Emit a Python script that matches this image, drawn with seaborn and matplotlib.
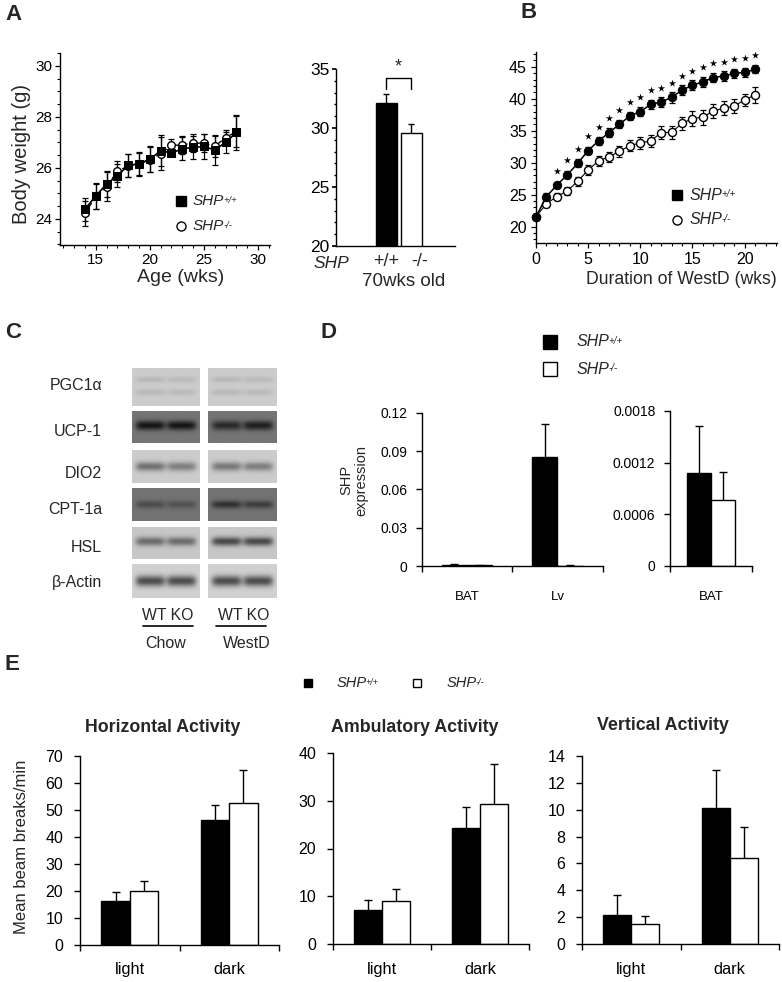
import numpy as np
import pandas as pd
import matplotlib
matplotlib.use("Agg")
import matplotlib.pyplot as plt
from matplotlib.lines import Line2D
from matplotlib.text import Annotation
from matplotlib.ticker import MultipleLocator, FixedLocator
import seaborn as sns

# ---------------- data ----------------
# Panel A (left): body weight vs age on chow
age_wks = [14, 15, 16, 17, 18, 19, 20, 21, 22, 23, 24, 25, 26, 27, 28]
bw_wt = [24.38, 24.9, 25.37, 25.69, 26.1, 26.16, 26.34, 26.67, 26.58, 26.75, 26.8, 26.84, 26.7, 27.0, 27.39]
bw_wt_err = [0.45, 0.5, 0.5, 0.45, 0.45, 0.45, 0.5, 0.6, 0.12, 0.45, 0.45, 0.5, 0.57, 0.4, 0.68]
bw_ko = [24.22, 24.88, 25.27, 25.86, 26.08, 26.15, 26.32, 26.55, 26.88, 26.9, 26.97, 26.97, 26.84, 27.19, 27.42]
bw_ko_err = [0.5, 0.5, 0.55, 0.4, 0.45, 0.45, 0.5, 0.65, 0.25, 0.35, 0.35, 0.35, 0.4, 0.3, 0.6]

# Panel A (right): 70 wks old
aged_geno = ["+/+", "-/-"]
aged_bw = [32.14, 29.6]
aged_err = [0.7, 0.73]

# Panel B: body weight on Western diet
wd_weeks = list(range(22))
wd_wt = [21.56, 24.7, 26.5, 28.1, 29.9, 31.9, 33.4, 34.7, 36.0, 37.3, 38.0, 39.1, 39.5, 40.2,
         41.35, 42.1, 42.65, 43.3, 43.55, 43.96, 44.1, 44.6]
wd_wt_err = [0.5, 0.5, 0.5, 0.55, 0.6, 0.6, 0.6, 0.65, 0.65, 0.7, 0.75, 0.75, 0.75, 0.8,
             0.8, 0.8, 0.8, 0.75, 0.75, 0.7, 0.7, 0.65]
wd_ko = [21.56, 23.6, 24.7, 25.6, 27.1, 28.85, 30.3, 30.9, 31.8, 32.65, 33.1, 33.4, 34.7, 34.75,
         36.15, 36.9, 37.1, 38.1, 38.5, 38.85, 39.8, 40.6]
wd_ko_err = [0.5, 0.5, 0.6, 0.6, 0.7, 0.8, 0.8, 0.8, 0.85, 0.9, 0.9, 0.95, 1.0, 1.0,
             1.05, 1.15, 1.15, 1.1, 1.1, 1.1, 1.0, 1.2]
sig_weeks = list(range(2, 22))

# Panel C: northern blots (relative band intensity per lane: Chow WT, Chow KO, WestD WT, WestD KO)
blot_genes = ["PGC1\u03b1", "UCP-1", "DIO2", "CPT-1a", "HSL", "\u03b2-Actin"]
blot_background = [0.80, 0.46, 0.80, 0.45, 0.78, 0.82]
blot_band = [[0.08, 0.07, 0.08, 0.07],
             [0.38, 0.38, 0.30, 0.34],
             [0.36, 0.30, 0.33, 0.30],
             [0.15, 0.13, 0.26, 0.21],
             [0.36, 0.36, 0.50, 0.50],
             [0.52, 0.52, 0.52, 0.52]]
lane_labels = ["WT KO", "WT KO"]
diet_labels = ["Chow", "WestD"]

# Panel D: SHP expression
tissues = ["BAT", "Lv"]
shp_wt = [0.00108, 0.0855]
shp_wt_err = [0.00055, 0.0255]
shp_ko = [0.000765, 0.0003]
shp_ko_err = [0.00032, 0.0001]

# Panel E: activity
phases = ["light", "dark"]
horiz_wt, horiz_wt_err = [16.4, 46.3], [3.1, 5.4]
horiz_ko, horiz_ko_err = [20.0, 52.7], [3.8, 12.1]
amb_wt, amb_wt_err = [7.1, 24.3], [2.1, 4.3]
amb_ko, amb_ko_err = [9.0, 29.4], [2.5, 8.2]
vert_wt, vert_wt_err = [2.15, 10.1], [1.5, 2.85]
vert_ko, vert_ko_err = [1.5, 6.4], [0.62, 2.35]

GENE = "SHP"
WT_SUP = "+/+"
KO_SUP = "-/-"

# ---------------- style ----------------
sns.set_theme(style="ticks")
plt.rcParams["font.family"] = ["Liberation Sans", "DejaVu Sans"]
plt.rcParams["axes.linewidth"] = 1.0
plt.rcParams["axes.edgecolor"] = "black"
plt.rcParams["xtick.color"] = "black"
plt.rcParams["ytick.color"] = "black"

W, H = 782, 982
fig = plt.figure(figsize=(W / 100, H / 100), dpi=100)


def add_ax(x0, y0, x1, y1):
    return fig.add_axes([x0 / W, 1 - y1 / H, (x1 - x0) / W, (y1 - y0) / H])


def ftext(x, y, s, **kw):
    kw.setdefault("ha", "center")
    kw.setdefault("va", "center")
    return fig.text(x / W, 1 - y / H, s, **kw)


def gene_label(x, y, sup, fs):
    t = ftext(x, y, GENE, fontsize=fs, ha="left", style="italic")
    fig.add_artist(Annotation(sup, xy=(1.0, 1.0), xycoords=t, xytext=(-0.8, -1.2),
                              textcoords="offset points", fontsize=fs * 0.62,
                              style="italic", ha="left", va="top"))


def legend_item(x, y, marker, face, size, tx, sup, fs):
    fig.add_artist(Line2D([x / W], [1 - y / H], transform=fig.transFigure, marker=marker,
                          markersize=size, markerfacecolor=face, markeredgecolor="black",
                          markeredgewidth=1, linestyle="none"))
    gene_label(tx, y, sup, fs)


def up_errorbar(ax, x, vals, errs, capsize=3):
    eb = ax.errorbar(x, vals, yerr=[np.zeros(len(vals)), errs], fmt="none", ecolor="black",
                     elinewidth=1, capsize=capsize, capthick=1, zorder=3, clip_on=False)
    for cl in eb[1]:
        if np.allclose(cl.get_ydata(), vals):
            cl.set_visible(False)


# ---------------- Panel A (left) ----------------
axA = add_ax(60, 53, 270, 245)
axA.errorbar(age_wks, bw_ko, yerr=bw_ko_err, fmt="none", ecolor="black", elinewidth=0.9,
             capsize=2, capthick=0.9, zorder=2)
axA.errorbar(age_wks, bw_wt, yerr=bw_wt_err, fmt="none", ecolor="black", elinewidth=0.9,
             capsize=2, capthick=0.9, zorder=2)
sns.lineplot(x=age_wks, y=bw_ko, ax=axA, color="black", linestyle="--", linewidth=1,
             marker="o", markersize=5.5, markerfacecolor="white", markeredgecolor="black",
             markeredgewidth=1, zorder=3)
sns.lineplot(x=age_wks, y=bw_wt, ax=axA, color="black", linewidth=1.2, marker="s",
             markersize=5.2, markerfacecolor="black", markeredgecolor="black", zorder=4)
axA.set_xlim(11.7, 31.1)
axA.set_ylim(22.98, 30.5)
axA.xaxis.set_major_locator(FixedLocator([15, 20, 25, 30]))
axA.xaxis.set_minor_locator(MultipleLocator(1))
axA.yaxis.set_major_locator(FixedLocator([24, 26, 28, 30]))
axA.yaxis.set_minor_locator(MultipleLocator(0.5))
axA.tick_params(which="major", direction="out", length=3.5, width=0.9, labelsize=11, pad=2)
axA.tick_params(which="minor", direction="out", length=2, width=0.8)
axA.set_xlabel("")
axA.set_ylabel("")
sns.despine(ax=axA)
ftext(181, 277, "Age (wks)", fontsize=14)
ftext(21.7, 153.5, "Body weight (g)", fontsize=14.5, rotation=90)
legend_item(181, 201, "s", "black", 6.5, 193, WT_SUP, 11)
legend_item(181, 226, "o", "white", 6.5, 193, KO_SUP, 11)

# ---------------- Panel A (right) ----------------
axA2 = add_ax(336, 69, 455, 246)
dfA2 = pd.DataFrame({"geno": aged_geno, "bw": aged_bw})
sns.barplot(data=dfA2, x="geno", y="bw", hue="geno", order=aged_geno, hue_order=aged_geno,
            palette={"+/+": "black", "-/-": "white"}, width=0.84, saturation=1,
            edgecolor="black", linewidth=1, errorbar=None, legend=False, ax=axA2)
up_errorbar(axA2, np.arange(2), aged_bw, aged_err, capsize=2.5)
axA2.set_xlim(-2, 2.76)
axA2.set_ylim(20, 35)
axA2.yaxis.set_major_locator(FixedLocator([20, 25, 30, 35]))
axA2.yaxis.set_minor_locator(MultipleLocator(1))
axA2.tick_params(axis="y", which="major", direction="out", length=3, labelsize=12.5, pad=1.5)
axA2.tick_params(axis="y", which="minor", direction="out", length=1.8)
axA2.set_xticks([])
axA2.set_xlabel("")
axA2.set_ylabel("")
for i, (g, dx) in enumerate(zip(aged_geno, [0, 6])):
    axA2.annotate(g, xy=(i, 0), xycoords=("data", "axes fraction"), xytext=(dx, -11),
                  textcoords="offset points", ha="center", va="center", fontsize=13)
sns.despine(ax=axA2)
top = max(m + e for m, e in zip(aged_bw, aged_err))
b0, b1 = top + 0.5, top + 1.42
axA2.plot([0, 0, 1, 1], [b0, b1, b1, b0], color="black", linewidth=1, clip_on=False)
axA2.text(0.5, b1 + 0.15, "*", ha="center", va="bottom", fontsize=13)
ftext(331, 263, "SHP", fontsize=12.5, style="italic")
ftext(404, 281, "70wks old", fontsize=13.5)

# ---------------- Panel B ----------------
axB = add_ax(536, 52, 777, 243)
axB.errorbar(wd_weeks, wd_ko, yerr=wd_ko_err, fmt="none", ecolor="black", elinewidth=0.9,
             capsize=2, capthick=0.9, zorder=2, clip_on=False)
axB.errorbar(wd_weeks, wd_wt, yerr=wd_wt_err, fmt="none", ecolor="black", elinewidth=0.9,
             capsize=2, capthick=0.9, zorder=2, clip_on=False)
sns.lineplot(x=wd_weeks, y=wd_ko, ax=axB, color="black", linewidth=0.8, marker="o",
             markersize=5.8, markerfacecolor="white", markeredgecolor="black",
             markeredgewidth=1, zorder=3, clip_on=False)
sns.lineplot(x=wd_weeks, y=wd_wt, ax=axB, color="black", linewidth=1.1, marker="o",
             markersize=6, markerfacecolor="black", markeredgecolor="black", zorder=4,
             clip_on=False)
star_y = [wd_wt[w] + 2.25 for w in sig_weeks]
axB.scatter(sig_weeks, star_y, marker="*", s=30, color="black", linewidths=0, clip_on=False,
            zorder=5)
axB.set_xlim(0, 23.1)
axB.set_ylim(17.45, 47.3)
axB.xaxis.set_major_locator(FixedLocator([0, 5, 10, 15, 20]))
axB.xaxis.set_minor_locator(MultipleLocator(1))
axB.yaxis.set_major_locator(FixedLocator([20, 25, 30, 35, 40, 45]))
axB.yaxis.set_minor_locator(MultipleLocator(1))
axB.tick_params(which="major", direction="out", length=3.5, width=0.9, labelsize=11.5, pad=3)
axB.tick_params(which="minor", direction="out", length=2, width=0.8)
axB.set_xlabel("")
axB.set_ylabel("")
sns.despine(ax=axB)
ftext(681, 280, "Duration of WestD (wks)", fontsize=12.7)
legend_item(677, 195, "s", "black", 6.5, 690, WT_SUP, 11.5)
legend_item(677, 220, "o", "white", 6.5, 690, KO_SUP, 11.5)

# ---------------- Panel C (blots) ----------------
axC = add_ax(120, 360, 290, 605)
axC.axis("off")
row_spans = [(369, 406), (411, 443), (450, 483), (488, 521), (527, 559), (564, 598)]
box_spans = [(132, 200), (208, 277)]
band_centers = [[0.3, 0.64], [0.45], [0.5], [0.5], [0.45], [0.5]]
band_sigma = [0.08, 0.15, 0.14, 0.12, 0.14, 0.16]
label_y = [386, 432, 473, 509, 547, 583]
yy = np.linspace(0, 1, 60)[:, None]
xx = np.linspace(0, 1, 120)[None, :]
for r, gene in enumerate(blot_genes):
    y0, y1 = row_spans[r]
    for b, (x0, x1) in enumerate(box_spans):
        img = np.full((60, 120), blot_background[r])
        for k, lc in enumerate([0.27, 0.73]):
            lane = np.exp(-((xx - lc) / 0.22) ** 6)
            for cy in band_centers[r]:
                img = img - blot_band[r][2 * b + k] * np.exp(-((yy - cy) / band_sigma[r]) ** 2) * lane
        axC.imshow(np.clip(img, 0, 1), cmap="gray", vmin=0, vmax=1, aspect="auto",
                   extent=(x0, x1, y1, y0), interpolation="bilinear")
    ftext(102, label_y[r], gene, fontsize=11.5, ha="right")
axC.set_xlim(120, 290)
axC.set_ylim(605, 360)
for (cx, lab), (lx0, lx1), dl, dx in zip([(167.5, lane_labels[0]), (244, lane_labels[1])],
                                         [(143, 193), (216, 266)], diet_labels, [166, 247]):
    ftext(cx, 615, lab, fontsize=11.3)
    fig.add_artist(Line2D([lx0 / W, lx1 / W], [1 - 626 / H, 1 - 626 / H],
                          transform=fig.transFigure, color="black", linewidth=1.2))
    ftext(dx, 643, dl, fontsize=11.5)


# ---------------- helper for Excel-style grouped bars ----------------
def excel_bars(ax, cats, wt, wt_err, ko, ko_err, width, ylim, yticks, yticklabels,
               tick_fs, ytick_pad, cat_fs, cat_pad):
    n = len(cats)
    df = pd.DataFrame({"cat": cats * 2, "val": list(wt) + list(ko),
                       "geno": ["WT"] * n + ["KO"] * n})
    sns.barplot(data=df, x="cat", y="val", hue="geno", order=cats, hue_order=["WT", "KO"],
                palette={"WT": "black", "KO": "white"}, width=width, gap=0, saturation=1,
                edgecolor="black", linewidth=1, errorbar=None, legend=False, ax=ax)
    pos = np.arange(n)
    up_errorbar(ax, pos - width / 4, wt, wt_err)
    up_errorbar(ax, pos + width / 4, ko, ko_err)
    ax.set_xlim(-0.5, n - 0.5)
    ax.set_ylim(*ylim)
    ax.set_yticks(yticks)
    ax.set_yticklabels(yticklabels)
    ax.set_xticks(np.arange(n + 1) - 0.5)
    ax.set_xticklabels([""] * (n + 1))
    ax.set_xticks(pos, minor=True)
    ax.set_xticklabels(cats, minor=True)
    ax.tick_params(axis="x", which="minor", length=0, pad=cat_pad, labelsize=cat_fs)
    ax.tick_params(axis="x", which="major", length=4, direction="out", width=1)
    ax.tick_params(axis="y", which="major", length=4, direction="out", width=1,
                   labelsize=tick_fs, pad=ytick_pad)
    ax.set_xlabel("")
    ax.set_ylabel("")
    sns.despine(ax=ax)


# ---------------- Panel D ----------------
axD1 = add_ax(421.7, 412.7, 602.7, 566)
excel_bars(axD1, tissues, shp_wt, shp_wt_err, shp_ko, shp_ko_err, 0.56, (0, 0.12),
           [0, 0.03, 0.06, 0.09, 0.12], ["0", "0.03", "0.06", "0.09", "0.12"],
           10, 6.5, 9.5, 18)
axD2 = add_ax(670, 411, 752.3, 565.7)
excel_bars(axD2, tissues[:1], shp_wt[:1], shp_wt_err[:1], shp_ko[:1], shp_ko_err[:1], 0.58,
           (0, 0.0018), [0, 0.0006, 0.0012, 0.0018], ["0", "0.0006", "0.0012", "0.0018"],
           10, 6.5, 9.5, 18)
ftext(354, 480, "SHP\nexpression", fontsize=10.5, rotation=90, linespacing=1.1)
legend_item(550, 341.7, "s", "black", 9.4, 576.7, WT_SUP, 11.5)
legend_item(550, 369.3, "s", "white", 9.4, 576.7, KO_SUP, 11.5)

# ---------------- Panel E ----------------
axE1 = add_ax(80, 756, 279, 945)
excel_bars(axE1, phases, horiz_wt, horiz_wt_err, horiz_ko, horiz_ko_err, 0.57, (0, 70),
           list(range(0, 71, 10)), [str(v) for v in range(0, 71, 10)], 11.5, 8, 11.8, 12)
axE2 = add_ax(333, 753, 529, 944)
excel_bars(axE2, phases, amb_wt, amb_wt_err, amb_ko, amb_ko_err, 0.57, (0, 40),
           list(range(0, 41, 10)), [str(v) for v in range(0, 41, 10)], 11.5, 8, 11.8, 13)
axE3 = add_ax(582, 756, 779, 944)
excel_bars(axE3, phases, vert_wt, vert_wt_err, vert_ko, vert_ko_err, 0.57, (0, 14),
           list(range(0, 15, 2)), [str(v) for v in range(0, 15, 2)], 11.5, 8, 11.8, 13)
ftext(163, 728, "Horizontal Activity", fontsize=12.8, fontweight="bold")
ftext(415, 727, "Ambulatory Activity", fontsize=12.8, fontweight="bold")
ftext(663, 725, "Vertical Activity", fontsize=12.8, fontweight="bold")
ftext(21.7, 846.7, "Mean beam breaks/min", fontsize=12, rotation=90)
legend_item(308, 683, "s", "black", 5.5, 336.7, WT_SUP, 10.5)
legend_item(416.5, 683, "s", "white", 5.5, 446.7, KO_SUP, 10.5)

# ---------------- panel letters ----------------
for letter, (lx, ly) in zip("ABCDE", [(14, 14), (529, 13), (13, 333), (328, 332), (11.5, 665)]):
    ftext(lx, ly, letter, fontsize=16, fontweight="bold")

fig.savefig("out.png", dpi=100)
